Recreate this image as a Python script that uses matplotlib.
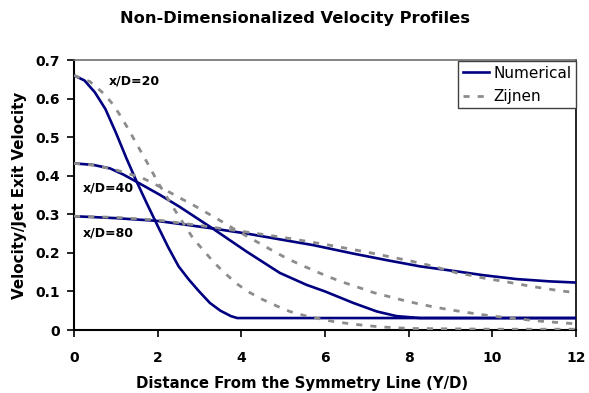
import matplotlib
matplotlib.use("Agg")
import matplotlib.pyplot as plt
from matplotlib.lines import Line2D

plt.rcParams['font.family'] = ['DejaVu Sans']

# Numerical profiles (Y/D, velocity ratio)
num20_x = [0, 0.25, 0.5, 0.75, 1.0, 1.25, 1.5, 1.75, 2.0, 2.25, 2.5, 2.75, 3.0, 3.25, 3.5, 3.75, 3.9, 6, 8, 10, 12]
num20_y = [0.66, 0.647, 0.616, 0.573, 0.512, 0.446, 0.384, 0.326, 0.27, 0.215, 0.165, 0.13, 0.099, 0.07, 0.05, 0.036, 0.031, 0.031, 0.031, 0.031, 0.031]

num40_x = [0, 0.46, 0.86, 1.18, 1.5, 2.06, 2.53, 3.33, 4.13, 4.92, 5.56, 6.0, 6.68, 7.24, 7.71, 8.27, 10, 12]
num40_y = [0.432, 0.428, 0.419, 0.403, 0.384, 0.35, 0.319, 0.262, 0.203, 0.148, 0.117, 0.1, 0.07, 0.048, 0.036, 0.031, 0.031, 0.031]

num80_x = [0, 1.0, 1.98, 2.53, 3.33, 4.13, 4.92, 5.72, 6.68, 7.48, 8.27, 9.15, 9.79, 10.58, 11.38, 12]
num80_y = [0.295, 0.29, 0.283, 0.275, 0.263, 0.25, 0.235, 0.22, 0.198, 0.181, 0.165, 0.152, 0.142, 0.132, 0.126, 0.123]

# Zijnen profiles
zij20_x = [0, 0.38, 0.70, 0.94, 1.14, 1.34, 1.54, 1.78, 2.02, 2.41, 2.85, 3.09, 3.33, 3.57, 3.89, 4.17, 4.49, 4.85, 5.16, 5.52, 5.88, 6.2, 6.68, 7.32, 8.03, 9, 10, 11, 12]
zij20_y = [0.66, 0.644, 0.614, 0.584, 0.55, 0.513, 0.474, 0.428, 0.38, 0.311, 0.237, 0.207, 0.177, 0.151, 0.12, 0.099, 0.08, 0.062, 0.048, 0.037, 0.029, 0.022, 0.015, 0.008, 0.004, 0.003, 0.002, 0.002, 0.002]

zij40_x = [0, 0.5, 1.0, 1.62, 2.06, 2.45, 2.85, 3.17, 3.49, 3.81, 4.13, 4.45, 4.76, 5.08, 5.44, 5.76, 6.08, 6.48, 6.84, 7.16, 7.55, 7.87, 8.23, 8.59, 8.95, 9.31, 9.67, 10.02, 10.42, 10.78, 11.14, 11.5, 12]
zij40_y = [0.432, 0.427, 0.415, 0.395, 0.371, 0.347, 0.324, 0.304, 0.284, 0.263, 0.243, 0.224, 0.205, 0.186, 0.168, 0.153, 0.138, 0.122, 0.109, 0.097, 0.086, 0.077, 0.068, 0.06, 0.053, 0.047, 0.041, 0.036, 0.031, 0.027, 0.023, 0.02, 0.016]

zij80_x = [0, 1.0, 2.0, 3.0, 4.0, 5.0, 6.0, 7.0, 8.0, 8.6, 9.15, 9.47, 9.87, 10.22, 10.58, 10.94, 11.3, 11.66, 12]
zij80_y = [0.295, 0.292, 0.285, 0.271, 0.256, 0.24, 0.222, 0.202, 0.18, 0.165, 0.148, 0.142, 0.133, 0.127, 0.12, 0.113, 0.107, 0.101, 0.097]

labels = ["x/D=20", "x/D=40", "x/D=80"]
label_pos = [(0.84, 0.646), (0.21, 0.368), (0.21, 0.252)]

x_ticks = [0, 2, 4, 6, 8, 10, 12]
y_ticks = [0, 0.1, 0.2, 0.3, 0.4, 0.5, 0.6, 0.7]

NAVY = '#000080'
GRAY = '#8c8c8c'
DASH = (2.2, 2.9)

fig = plt.figure(figsize=(5.89, 3.93), dpi=100)
ax = fig.add_axes([74/589, 1 - 330/393, 502/589, 270/393])

for xs, ys in [(num20_x, num20_y), (num40_x, num40_y), (num80_x, num80_y)]:
    ax.plot(xs, ys, color=NAVY, lw=1.9, solid_capstyle='butt', solid_joinstyle='round', zorder=3)
for xs, ys in [(zij20_x, zij20_y), (zij40_x, zij40_y), (zij80_x, zij80_y)]:
    ax.plot(xs, ys, color=GRAY, lw=2.0, dashes=DASH, zorder=4)

for txt, (tx, ty) in zip(labels, label_pos):
    ax.text(tx, ty, txt, fontsize=9, fontweight='bold', ha='left', va='center', zorder=5)

ax.set_xlim(0, 12)
ax.set_ylim(0, 0.7)
ax.set_xticks(x_ticks)
ax.set_xticklabels([str(v) for v in x_ticks])
ax.set_yticks(y_ticks)
ax.set_yticklabels(["0"] + [f"{v:.1f}" for v in y_ticks[1:]])
ax.tick_params(direction='out', length=5, width=1.2, labelsize=10)
ax.tick_params(axis='x', pad=10)
ax.tick_params(axis='y', pad=5)
for lab in ax.get_xticklabels() + ax.get_yticklabels():
    lab.set_fontweight('bold')

ax.spines['left'].set_linewidth(1.5)
ax.spines['bottom'].set_linewidth(1.5)
ax.spines['top'].set_color('#707070')
ax.spines['top'].set_linewidth(1.2)
ax.spines['right'].set_linewidth(1.2)

ax.set_xlabel("Distance From the Symmetry Line (Y/D)", fontsize=10.7, fontweight='bold')
ax.xaxis.set_label_coords(0.454, -0.17)
ax.set_ylabel("Velocity/Jet Exit Velocity", fontsize=10.9, fontweight='bold', labelpad=6)
fig.suptitle("Non-Dimensionalized Velocity Profiles", fontsize=11.7, fontweight='bold', y=1 - 18/393, va='center')

handles = [Line2D([0], [0], color=NAVY, lw=1.9),
           Line2D([0], [0], color=GRAY, lw=2.0, dashes=DASH)]
leg = ax.legend(handles, ["Numerical", "Zijnen"], loc='upper right', bbox_to_anchor=(1.0, 0.995),
                fancybox=False, framealpha=1, edgecolor='#404040', borderpad=0.28,
                handlelength=1.7, handletextpad=0.33, labelspacing=0.55, borderaxespad=0,
                prop={'family': 'DejaVu Sans', 'weight': 'normal', 'size': 11})
leg.get_frame().set_linewidth(1.0)

fig.savefig("out.png", dpi=100)
